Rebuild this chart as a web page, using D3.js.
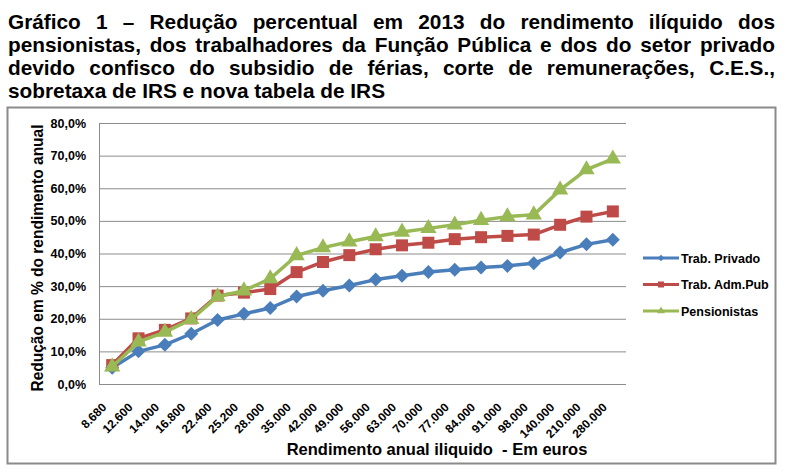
<!DOCTYPE html>
<html>
<head>
<meta charset="utf-8">
<script src="https://cdn.jsdelivr.net/npm/d3@7"></script>
<style>
    body { margin: 0; background: #fff; }
    svg text { font-family: "Liberation Sans", Arial, sans-serif; font-weight: bold; fill: #000; }
</style>
</head>
<body>
<svg id="chart" width="787" height="475"></svg>
<script>
// title lines (first three are justified, the last one is not)
const titleLines = [
    "Gráfico 1 – Redução percentual em 2013 do rendimento ilíquido dos",
    "pensionistas, dos trabalhadores da Função Pública e dos do setor privado",
    "devido confisco do subsidio de férias, corte de remunerações, C.E.S.,",
    "sobretaxa de IRS e nova tabela de IRS"
];

// rendimento anual (categories on the x axis)
const categories = ["8.680", "12.600", "14.000", "16.800", "22.400", "25.200", "28.000", "35.000",
    "42.000", "49.000", "56.000", "63.000", "70.000", "77.000", "84.000", "91.000", "98.000",
    "140.000", "210.000", "280.000"];

// reduction in %
const privado = [5.0, 10.0, 12.0, 15.4, 19.6, 21.5, 23.3, 26.8, 28.6, 30.2, 32.0, 33.2, 34.3,
    35.0, 35.7, 36.2, 37.0, 40.3, 42.8, 44.2];
const admPub = [5.8, 14.0, 16.6, 20.1, 27.1, 28.0, 29.1, 34.3, 37.4, 39.5, 41.3, 42.5, 43.3,
    44.4, 45.0, 45.4, 45.8, 48.8, 51.3, 52.9];
const pensionistas = [5.3, 12.9, 15.9, 19.8, 26.8, 28.6, 32.3, 39.4, 41.8, 43.6, 45.2, 46.6, 47.7,
    48.8, 50.2, 51.3, 51.9, 59.5, 65.7, 69.0];

const yTicks = [0, 10, 20, 30, 40, 50, 60, 70, 80];

const seriesNames = ["Trab. Privado", "Trab. Adm.Pub", "Pensionistas"];
const seriesColors = ["#4a7ebb", "#be4b48", "#98b954"];

const svg = d3.select("#chart");

// ---- title, justified word by word
const titleLeft = 8, titleRight = 775;
titleLines.forEach((line, i) => {
    const words = line.split(" ");
    const baseline = 29 + i * 23;
    const g = svg.append("g").attr("class", "title-line");
    const nodes = words.map(w => g.append("text")
        .attr("y", baseline)
        .style("font-size", "20.8px")
        .text(w));
    const widths = nodes.map(n => n.node().getComputedTextLength());
    const total = d3.sum(widths);
    const justify = i < titleLines.length - 1;
    const gap = justify ? (titleRight - titleLeft - total) / (words.length - 1) : 5.8;
    let x = titleLeft;
    nodes.forEach((n, k) => {
        n.attr("x", x);
        x += widths[k] + gap;
    });
});

// ---- chart frame
svg.append("rect")
    .attr("x", 7.5)
    .attr("y", 107.5)
    .attr("width", 768)
    .attr("height", 356)
    .attr("fill", "#fff")
    .attr("stroke", "#8a8a8a")
    .attr("stroke-width", 2);

const plot = {left: 99, right: 626, top: 123, bottom: 384};

const xScale = d3.scaleBand()
    .domain(categories)
    .range([plot.left, plot.right]);

const yScale = d3.scaleLinear()
    .domain([0, 80])
    .range([plot.bottom, plot.top]);

// y axis with gridlines
const yAxis = svg.append("g")
    .attr("transform", `translate(${plot.left},0)`)
    .call(d3.axisLeft(yScale)
        .tickValues(yTicks)
        .tickSize(-(plot.right - plot.left))
        .tickPadding(13)
        .tickFormat(d => d.toFixed(1).replace(".", ",") + "%"));
yAxis.select(".domain").remove();
yAxis.selectAll(".tick line").attr("stroke", "#8c8c8c").attr("stroke-width", 1);
yAxis.selectAll(".tick text").style("font-size", "12.5px");

// left axis line
svg.append("line")
    .attr("x1", plot.left + 0.5).attr("x2", plot.left + 0.5)
    .attr("y1", plot.top).attr("y2", plot.bottom)
    .attr("stroke", "#8c8c8c");

// x axis
const xAxis = svg.append("g")
    .attr("transform", `translate(0,${plot.bottom})`)
    .call(d3.axisBottom(xScale).tickSize(0).tickPadding(0));
xAxis.select(".domain").remove();
xAxis.selectAll(".tick text")
    .style("font-size", "12px")
    .attr("text-anchor", "end")
    .attr("dy", null)
    .attr("y", 0)
    .attr("transform", "translate(-5,24) rotate(-45)");

// axis titles
svg.append("text")
    .attr("transform", "translate(43,258) rotate(-90)")
    .attr("text-anchor", "middle")
    .style("font-size", "16px")
    .attr("textLength", 267)
    .attr("lengthAdjust", "spacingAndGlyphs")
    .text("Redução em % do rendimento anual");

svg.append("text")
    .attr("x", 437)
    .attr("y", 455)
    .attr("text-anchor", "middle")
    .style("font-size", "16.5px")
    .attr("xml:space", "preserve")
    .text("Rendimento anual iliquido  - Em euros");

// ---- series
const allSeries = [privado, admPub, pensionistas];
const symbols = [
    d3.symbol().type(d3.symbolSquare).size(98),
    d3.symbol().type(d3.symbolSquare).size(144),
    d3.symbol().type(d3.symbolTriangle).size(115)
];
const symbolRotate = [45, 0, 0];
const bandMid = xScale.bandwidth() / 2;

const line = d3.line()
    .x((d, i) => xScale(categories[i]) + bandMid)
    .y(d => yScale(d));

allSeries.forEach((values, s) => {
    const g = svg.append("g").attr("class", "series-" + s);
    g.append("path")
        .datum(values)
        .attr("fill", "none")
        .attr("stroke", seriesColors[s])
        .attr("stroke-width", 3.5)
        .attr("stroke-linejoin", "round")
        .attr("d", line);
    g.selectAll(".marker")
        .data(values)
        .join("path")
        .attr("class", "marker")
        .attr("fill", seriesColors[s])
        .attr("transform", (d, i) =>
            `translate(${xScale(categories[i]) + bandMid},${yScale(d)}) rotate(${symbolRotate[s]})`)
        .attr("d", symbols[s]);
});

// ---- legend
const legendSymbols = [
    d3.symbol().type(d3.symbolSquare).size(20),
    d3.symbol().type(d3.symbolSquare).size(36),
    d3.symbol().type(d3.symbolTriangle).size(26)
];
seriesNames.forEach((name, s) => {
    const y = 258 + s * 26.5;
    const g = svg.append("g").attr("class", "legend-item");
    g.append("line")
        .attr("x1", 643).attr("x2", 679)
        .attr("y1", y).attr("y2", y)
        .attr("stroke", seriesColors[s])
        .attr("stroke-width", 3);
    g.append("path")
        .attr("fill", seriesColors[s])
        .attr("transform", `translate(661,${y}) rotate(${symbolRotate[s]})`)
        .attr("d", legendSymbols[s]);
    g.append("text")
        .attr("x", 681)
        .attr("y", y + 4.5)
        .style("font-size", "12.5px")
        .text(name);
});
</script>
</body>
</html>
